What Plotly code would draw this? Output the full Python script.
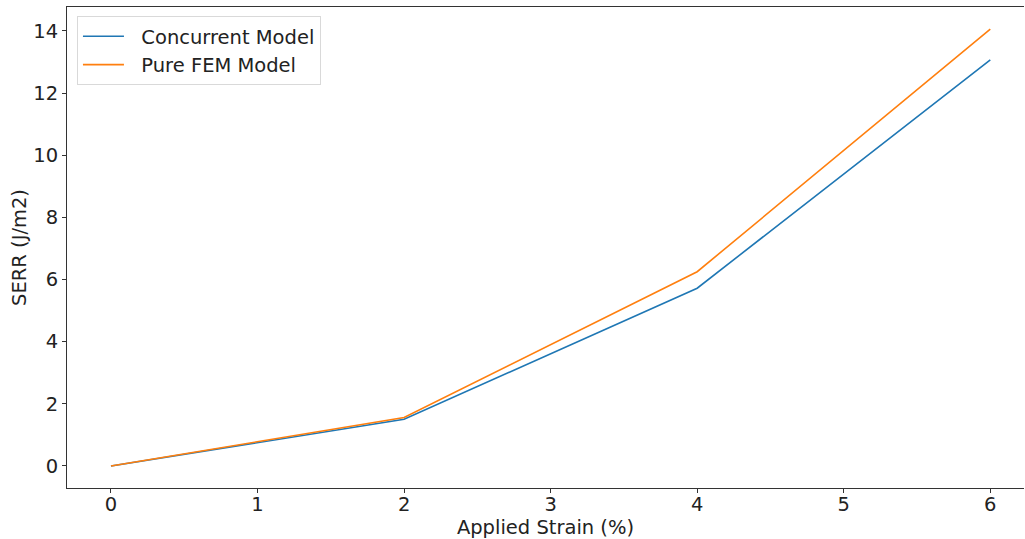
import plotly.graph_objects as go

strain = [0, 2, 4, 6]
concurrent = [0.0, 1.50, 5.72, 13.07]
pure_fem = [0.0, 1.56, 6.25, 14.06]
x_ticks = [0, 1, 2, 3, 4, 5, 6]
y_ticks = [0, 2, 4, 6, 8, 10, 12, 14]
names = ["Concurrent Model", "Pure FEM Model"]

font = "DejaVu Sans"
fs = 19.5
pad = "\u00a0\u00a0"
fig = go.Figure()
fig.add_trace(go.Scatter(x=strain, y=concurrent, mode="lines", name=pad + names[0],
                         line=dict(color="#1f77b4", width=1.6)))
fig.add_trace(go.Scatter(x=strain, y=pure_fem, mode="lines", name=pad + names[1],
                         line=dict(color="#ff7f0e", width=1.6)))

axis_common = dict(showgrid=False, zeroline=False, showline=True, linecolor="#333333", linewidth=1,
                   ticks="outside", ticklen=4, tickwidth=1, tickcolor="#333333",
                   tickfont=dict(family=font, size=fs, color="#222222"))
fig.update_layout(
    width=1025, height=539,
    margin=dict(l=67, r=1, t=7, b=51),
    plot_bgcolor="white", paper_bgcolor="white",
    font=dict(family=font, size=fs, color="#222222"),
    xaxis=dict(range=[-0.3, 6.23], tickvals=x_ticks, mirror=True, ticklabelstandoff=-5,
               title=dict(text="Applied Strain (%)", font=dict(family=font, size=fs), standoff=7),
               **axis_common),
    yaxis=dict(range=[-0.71, 14.77], tickvals=y_ticks,
               title=dict(text="SERR (J/m2)", font=dict(family=font, size=fs), standoff=1),
               **axis_common),
    legend=dict(x=0.0104, y=0.981, xanchor="left", yanchor="top", itemwidth=41,
                bgcolor="rgba(255,255,255,0.8)", bordercolor="#d9d9d9", borderwidth=1,
                font=dict(family=font, size=fs, color="#222222")),
    showlegend=True,
)
fig.write_html("out.html", config={"displayModeBar": False},
               post_script="document.body.style.margin='0px';document.body.style.overflow='hidden';")
